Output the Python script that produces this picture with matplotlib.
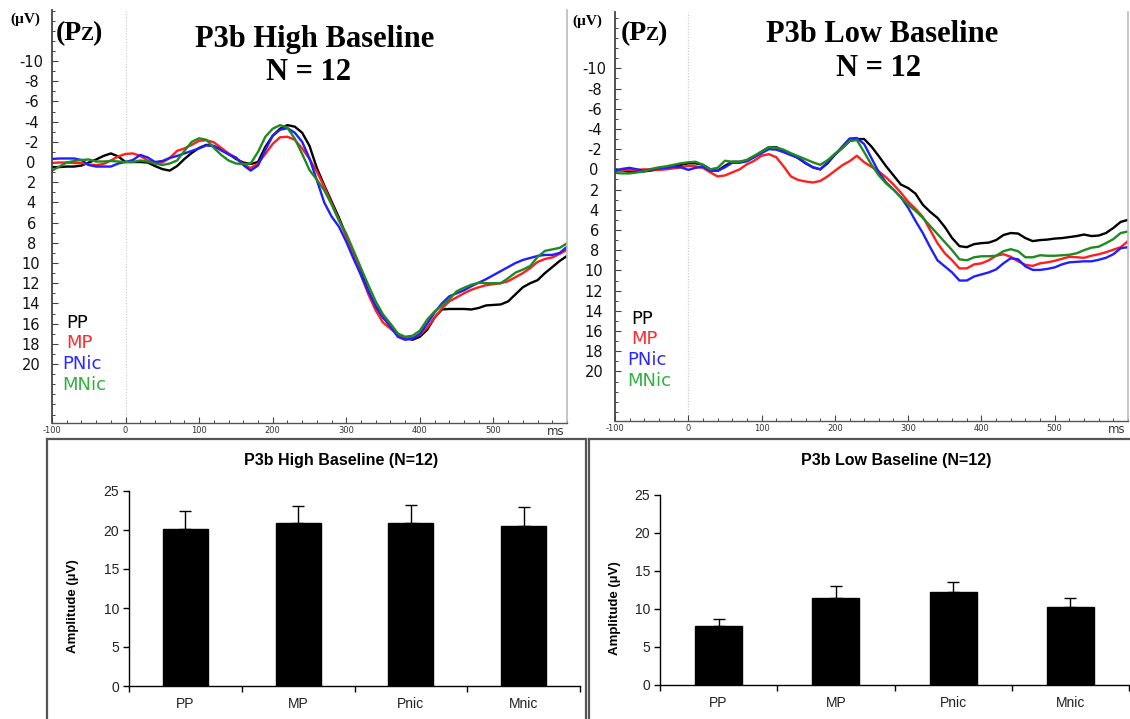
import numpy as np
import matplotlib
matplotlib.use("Agg")
import matplotlib.pyplot as plt
from matplotlib.lines import Line2D
from matplotlib.ticker import MultipleLocator, FixedLocator

plt.rcParams["axes.unicode_minus"] = False

# ---------------- data ----------------
TIME_MS = np.arange(-100, 601, 10)

high_PP = [0.5, 0.5, 0.45, 0.45, 0.35, 0.05, -0.25, -0.6, -0.85, -0.55,
           0.0, 0.0, 0.0, 0.05, 0.4, 0.7, 0.85, 0.4, -0.3, -0.9,
           -1.4, -1.7, -1.55, -1.25, -0.8, -0.3, 0.05, 0.2, 0.0, -1.5,
           -2.6, -3.3, -3.65, -3.5, -2.9, -1.6, 0.6, 2.3, 3.9, 5.5,
           7.3, 9.1, 10.9, 12.8, 14.3, 15.4, 16.1, 17.0, 17.4, 17.6,
           17.3, 16.6, 15.4, 14.6, 14.55, 14.55, 14.55, 14.6, 14.45, 14.2,
           14.15, 14.1, 13.8, 13.1, 12.4, 12.0, 11.7, 11.0, 10.4, 9.8, 9.3]
high_MP = [0.1, 0.05, 0.05, 0.1, 0.1, 0.25, 0.3, 0.2, -0.15, -0.55,
           -0.8, -0.85, -0.6, -0.15, 0.1, 0.05, -0.4, -1.1, -1.35, -1.7,
           -2.1, -2.15, -1.95, -1.4, -0.85, -0.4, 0.2, 0.6, 0.15, -0.8,
           -1.8, -2.45, -2.5, -2.2, -1.35, -0.3, 0.95, 2.45, 4.1, 5.7,
           7.4, 9.1, 11.2, 13.1, 14.7, 15.9, 16.5, 17.1, 17.4, 17.45,
           17.1, 16.4, 15.4, 14.5, 13.8, 13.4, 13.0, 12.65, 12.4, 12.2,
           12.1, 12.0, 11.8, 11.4, 11.0, 10.5, 9.9, 9.6, 9.45, 9.1, 8.7]
high_PNic = [-0.3, -0.35, -0.35, -0.35, -0.2, 0.3, 0.45, 0.45, 0.45, 0.15,
             0.0, -0.2, -0.7, -0.45, 0.0, -0.1, -0.4, -0.6, -0.85, -1.1,
             -1.35, -1.65, -1.6, -1.15, -0.75, -0.45, 0.3, 0.85, 0.35, -1.2,
             -2.6, -3.2, -3.35, -2.9, -2.0, -0.35, 1.8, 4.0, 5.4, 6.4,
             7.9, 9.6, 11.2, 12.8, 14.3, 15.4, 16.3, 17.3, 17.6, 17.5,
             17.0, 16.0, 14.9, 14.0, 13.3, 13.0, 12.7, 12.3, 11.95, 11.6,
             11.2, 10.8, 10.4, 10.0, 9.7, 9.5, 9.3, 9.2, 9.2, 9.0, 8.4]
high_MNic = [0.85, 0.45, 0.05, -0.1, -0.2, -0.25, -0.05, -0.05, -0.1, -0.05,
             0.0, 0.0, -0.15, -0.05, 0.15, 0.3, 0.15, -0.15, -1.1, -2.0,
             -2.35, -2.2, -1.4, -0.7, -0.15, 0.15, 0.2, 0.15, -1.0, -2.5,
             -3.3, -3.65, -3.4, -2.3, -0.8, 0.8, 1.75, 2.8, 4.2, 5.8,
             7.1, 8.8, 10.5, 12.2, 13.8, 15.1, 16.0, 17.0, 17.3, 17.2,
             16.7, 15.6, 14.8, 14.2, 13.6, 12.8, 12.45, 12.15, 11.95, 12.0,
             12.0, 12.0, 11.5, 10.95, 10.65, 10.3, 9.4, 8.8, 8.65, 8.5, 8.05]

low_PP = [0.0, 0.1, 0.25, 0.25, 0.2, 0.1, 0.0, -0.1, -0.3, -0.45,
          -0.6, -0.6, -0.45, 0.0, 0.15, -0.35, -0.75, -0.75, -0.85, -1.25,
          -1.75, -2.2, -2.2, -1.85, -1.5, -1.1, -0.6, -0.2, 0.0, -0.6,
          -1.45, -2.1, -2.8, -3.0, -3.0, -2.25, -1.3, -0.3, 0.6, 1.5,
          1.85, 2.4, 3.5, 4.2, 4.8, 5.7, 6.8, 7.6, 7.7, 7.4,
          7.3, 7.25, 7.0, 6.5, 6.3, 6.35, 6.8, 7.1, 7.0, 6.95,
          6.85, 6.8, 6.7, 6.6, 6.45, 6.6, 6.55, 6.3, 5.8, 5.2, 5.0]
low_MP = [0.15, 0.1, 0.05, 0.05, 0.0, 0.0, 0.05, 0.0, -0.1, -0.2,
          -0.35, -0.3, -0.15, 0.3, 0.7, 0.6, 0.3, 0.0, -0.5, -0.85,
          -1.35, -1.5, -1.2, -0.3, 0.7, 1.05, 1.2, 1.3, 1.15, 0.7,
          0.15, -0.4, -0.8, -1.35, -0.7, -0.25, 0.2, 0.8, 1.5, 2.3,
          3.2, 3.9, 4.7, 6.0, 7.3, 8.3, 9.0, 9.8, 9.8, 9.4,
          9.3, 9.0, 8.55, 8.4, 8.65, 9.1, 9.45, 9.55, 9.3, 9.2,
          9.05, 8.85, 8.65, 8.7, 8.75, 8.55, 8.4, 8.2, 7.95, 7.7, 7.1]
low_PNic = [0.15, -0.05, -0.15, 0.0, 0.15, 0.0, -0.1, -0.15, -0.25, -0.2,
            0.05, -0.15, -0.25, 0.15, 0.15, -0.2, -0.65, -0.65, -0.8, -1.2,
            -1.6, -2.0, -1.95, -1.7, -1.4, -1.15, -0.65, -0.2, 0.0, -0.7,
            -1.45, -2.25, -3.05, -3.1, -2.5, -1.1, 0.3, 1.3, 2.0, 2.75,
            3.8, 5.1, 6.3, 7.7, 9.0, 9.6, 10.2, 11.0, 11.0, 10.6,
            10.4, 10.2, 9.9, 9.3, 8.8, 8.9, 9.6, 9.95, 9.95, 9.85,
            9.7, 9.4, 9.2, 9.15, 9.1, 9.1, 8.95, 8.75, 8.4, 7.8, 7.7]
low_MNic = [0.35, 0.4, 0.4, 0.3, 0.2, -0.05, -0.2, -0.3, -0.45, -0.6,
            -0.7, -0.75, -0.45, 0.0, -0.15, -0.85, -0.75, -0.75, -0.95, -1.35,
            -1.75, -2.2, -2.15, -1.95, -1.6, -1.3, -1.0, -0.7, -0.45, -0.9,
            -1.55, -2.1, -2.8, -2.9, -1.7, -0.45, 0.6, 1.4, 2.0, 2.75,
            3.5, 4.1, 4.8, 5.6, 6.4, 7.2, 8.0, 8.9, 9.0, 8.7,
            8.6, 8.6, 8.55, 8.1, 7.9, 8.1, 8.7, 8.7, 8.5, 8.55,
            8.55, 8.5, 8.45, 8.3, 8.0, 7.75, 7.65, 7.3, 6.9, 6.3, 6.15]

conditions = ["PP", "MP", "PNic", "MNic"]
bar_categories = ["PP", "MP", "Pnic", "Mnic"]
high_means = [20.1, 20.9, 20.9, 20.5]
high_errors = [2.3, 2.2, 2.3, 2.5]
low_means = [7.7, 11.5, 12.3, 10.2]
low_errors = [1.0, 1.5, 1.3, 1.3]

# ---------------- styling ----------------
W, H = 1130, 719
line_colors = ["#000000", "#ff1f1f", "#1f1fff", "#1f8a1f"]
label_colors = ["#000000", "#ff2a2a", "#2a2aff", "#33b040"]
SERIF = "Liberation Serif"
SANS = "DejaVu Sans"
ARIAL = "Liberation Sans"


def fx(x):
    return x / W


def fy(y):
    return 1 - y / H


fig = plt.figure(figsize=(W / 100, H / 100), dpi=100)
fig.patch.set_facecolor("white")


def erp_panel(left, right, top, bottom, ylim, series, title,
              uv_pos, pz_pos, title_xy, n_xy, legend_xy):
    ax = fig.add_axes([fx(left), fy(bottom), (right - left) / W, (bottom - top) / H])
    for vals, c in zip(series, line_colors):
        ax.plot(TIME_MS, vals, color=c, lw=1.7, solid_joinstyle="round")
    ax.set_xlim(-100, 600)
    ax.set_ylim(*ylim)
    ax.axvline(0, color="#c8c8c8", lw=0.8, ls=(0, (1, 1.5)), zorder=0)
    ax.spines["top"].set_visible(False)
    ax.spines["right"].set_color("#bbbbbb")
    ax.spines["right"].set_linewidth(1.2)
    ax.spines["left"].set_color("#444444")
    ax.spines["left"].set_linewidth(1.3)
    ax.spines["bottom"].set_color("#555555")
    ax.spines["bottom"].set_linewidth(1.0)
    ax.yaxis.set_major_locator(FixedLocator(np.arange(-10, 21, 2)))
    ax.yaxis.set_minor_locator(MultipleLocator(1))
    ax.xaxis.set_major_locator(FixedLocator(np.arange(-100, 501, 100)))
    ax.xaxis.set_minor_locator(MultipleLocator(20))
    ax.tick_params(axis="y", which="major", direction="in", length=4, width=0.8,
                   color="#444444", labelsize=10.5, pad=15, labelcolor="#111111")
    ax.tick_params(axis="y", which="minor", direction="in", length=2.5, width=0.7,
                   color="#444444")
    ax.tick_params(axis="x", which="major", direction="in", length=4, width=0.8,
                   color="#444444", labelsize=6, pad=2, labelcolor="#333333")
    ax.tick_params(axis="x", which="minor", direction="in", length=2.5, width=0.7,
                   color="#444444")
    for lab in ax.get_yticklabels():
        lab.set_fontfamily(SANS)
        lab.set_horizontalalignment("center")
    ax.text(585, -0.005, "ms", transform=ax.get_xaxis_transform(), ha="center",
            va="top", fontsize=8.5, color="#333333", family=SANS)
    # header texts
    fig.text(fx(uv_pos[0]), fy(uv_pos[1]), "(µV)", family=SERIF, weight="bold",
             fontsize=11, ha="left", va="center")
    fig.text(fx(pz_pos[0]), fy(pz_pos[1]), "(P", family=SERIF, weight="bold",
             fontsize=20, ha="left", va="baseline")
    fig.text(fx(pz_pos[0] + 24), fy(pz_pos[1]), "Z", family=SERIF, weight="bold",
             fontsize=14, ha="left", va="baseline")
    fig.text(fx(pz_pos[0] + 36), fy(pz_pos[1]), ")", family=SERIF, weight="bold",
             fontsize=20, ha="left", va="baseline")
    fig.text(fx(title_xy[0]), fy(title_xy[1]), title, family=SERIF, weight="bold",
             fontsize=22, ha="center", va="center")
    fig.text(fx(n_xy[0]), fy(n_xy[1]), "N = 12", family=SERIF, weight="bold",
             fontsize=22, ha="center", va="center")
    for i, (name, c) in enumerate(zip(conditions, label_colors)):
        dx = 0 if i < 2 else -4
        fig.text(fx(legend_xy[0] + dx), fy(legend_xy[1] + 20.5 * i), name, color=c,
                 family=SANS, fontsize=13, ha="left", va="center")
    return ax


erp_panel(52, 567, 10, 423, (25.84, -15.05),
          [high_PP, high_MP, high_PNic, high_MNic], "P3b High Baseline",
          (10, 19), (56, 40), (315, 40), (309, 73), (66, 323))
erp_panel(615, 1128, 12, 421, (24.9, -15.57),
          [low_PP, low_MP, low_PNic, low_MNic], "P3b Low Baseline",
          (572, 21), (621, 40), (882, 35), (878, 69), (631, 319))


def bar_panel(left, right, top, bottom, means, errs, title, title_xy, ylab_xy):
    ax = fig.add_axes([fx(left), fy(bottom), (right - left) / W, (bottom - top) / H])
    x = np.arange(len(bar_categories))
    ax.bar(x, means, width=0.40, color="black", edgecolor="black", zorder=2)
    ax.errorbar(x, means, yerr=[np.zeros(len(errs)), errs], fmt="none",
                ecolor="black", elinewidth=1.0, capsize=4, capthick=1.0, zorder=1)
    ax.set_xlim(-0.5, len(bar_categories) - 0.5)
    ax.set_ylim(0, 25)
    ax.spines["top"].set_visible(False)
    ax.spines["right"].set_visible(False)
    ax.spines["left"].set_linewidth(1.0)
    ax.spines["bottom"].set_linewidth(1.0)
    ax.yaxis.set_major_locator(MultipleLocator(5))
    ax.set_xticks(x)
    ax.set_xticklabels(bar_categories)
    ax.xaxis.set_minor_locator(FixedLocator(np.arange(-0.5, len(bar_categories), 1.0)))
    ax.tick_params(axis="x", which="major", length=0, pad=8, labelsize=10)
    ax.tick_params(axis="x", which="minor", length=4, width=1.0, direction="out")
    ax.tick_params(axis="y", which="major", length=4, width=1.0, direction="out",
                   labelsize=10, pad=3)
    for lab in ax.get_xticklabels() + ax.get_yticklabels():
        lab.set_fontfamily(ARIAL)
        lab.set_color("#222222")
    fig.text(fx(title_xy[0]), fy(title_xy[1]), title, family=ARIAL, weight="bold",
             fontsize=11.5, ha="center", va="center")
    fig.text(fx(ylab_xy[0]), fy(ylab_xy[1]), "Amplitude (µV)", family=ARIAL,
             weight="bold", fontsize=9.5, rotation=90, ha="center", va="center")
    return ax


bar_panel(129, 580, 491, 686, high_means, high_errors, "P3b High Baseline (N=12)",
          (341, 461), (73, 606))
bar_panel(660, 1129, 495, 685, low_means, low_errors, "P3b Low Baseline (N=12)",
          (896, 460), (615, 608))

# frames around the lower panels
frame_kw = dict(color="#555555", lw=1.6, transform=fig.transFigure)
fig.add_artist(Line2D([fx(47), fx(586)], [fy(439), fy(439)], **frame_kw))
fig.add_artist(Line2D([fx(47), fx(47)], [fy(439), fy(719)], **frame_kw))
fig.add_artist(Line2D([fx(586), fx(586)], [fy(439), fy(719)], **frame_kw))
fig.add_artist(Line2D([fx(589), fx(1130)], [fy(439), fy(439)], **frame_kw))
fig.add_artist(Line2D([fx(589), fx(589)], [fy(439), fy(719)], **frame_kw))

fig.savefig("out.png", dpi=100, facecolor="white")
